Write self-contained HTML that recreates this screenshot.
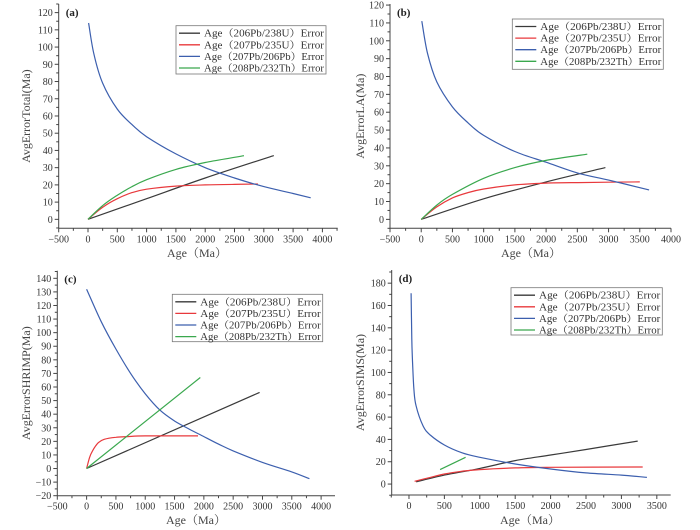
<!DOCTYPE html>
<html><head><meta charset="utf-8">
<style>
body{margin:0;background:#fff;}
svg{display:block;font-family:"Liberation Serif","Noto Serif CJK SC",serif;}
</style></head>
<body>
<svg id="fig" width="700" height="530" viewBox="0 0 700 530"></svg>
<script>
const seriesNames = ["Age（206Pb/238U）Error","Age（207Pb/235U）Error","Age（207Pb/206Pb）Error","Age（208Pb/232Th）Error"];
const colors = ["#3a3a3a","#e8393c","#3c5fae","#3aa84e"];

const aBlack = [[0,0],[1000,12],[2000,24],[3170,37]];
const aRed = [[0,0],[250,7],[500,12],[750,15.5],[1000,17.5],[1500,19.3],[2000,20],[2500,20.3],[2900,20.5]];
const aBlue = [[10,114],[100,96],[250,79],[500,64],[750,55],[1000,48],[1500,38],[2000,30],[2500,24],[3000,19],[3500,15],[3800,12.5]];
const aGreen = [[0,0],[250,8],[500,14],[750,19],[1000,23],[1500,29],[2000,33],[2500,36],[2660,37]];

const bBlack = [[0,0],[1000,11.5],[2000,21],[2950,29]];
const bRed = [[0,0],[250,7],[500,12],[750,15],[1000,17],[1500,19.3],[2000,20.3],[2500,20.6],[3000,20.8],[3500,21]];
const bBlue = [[10,111],[100,93],[250,77],[500,63],[750,54],[1000,47],[1500,38],[2000,32],[2500,26],[3000,22],[3650,16.5]];
const bGreen = [[0,0],[250,8],[500,14],[1000,23],[1500,29],[2000,33],[2660,36.5]];

const cBlack = [[0,0],[2950,56]];
const cRed = [[0,0],[50,8],[100,13],[200,19],[300,21.5],[500,23],[700,23.5],[1000,24],[1900,24]];
const cBlue = [[0,132],[250,108],[500,88],[750,70],[1000,55],[1250,43],[1500,35],[1750,29],[2000,23.5],[2250,18],[2500,13],[3000,4.5],[3500,-2.5],[3800,-7.5]];
const cGreen = [[0,0],[1940,67]];

const dBlack = [[100,2],[500,8],[1000,14],[1500,21],[2000,26],[2500,31],[3230,38.5]];
const dRed = [[80,2.5],[300,6],[500,9],[750,11.5],[1000,13],[1500,14.5],[2000,15],[3300,15.3]];
const dBlue = [[30,171],[40,130],[50,110],[70,85],[100,70],[200,52],[300,44],[500,35],[750,28],[1000,24],[1500,18],[2000,13.5],[2500,10],[3000,8],[3360,6]];
const dGreen = [[440,13],[800,24]];

const xTicksA = [-500,0,500,1000,1500,2000,2500,3000,3500,4000];
const xTicksD = [0,500,1000,1500,2000,2500,3000,3500];
const yTicksAB = [0,10,20,30,40,50,60,70,80,90,100,110,120];
const yTicksC = [-20,-10,0,10,20,30,40,50,60,70,80,90,100,110,120,130,140];
const yTicksD = [0,20,40,60,80,100,120,140,160,180];

const NS="http://www.w3.org/2000/svg";
const svg=document.getElementById('fig');
function mk(t,a,p){const e=document.createElementNS(NS,t);for(const k in a)e.setAttribute(k,a[k]);(p||svg).appendChild(e);return e;}
function smooth(pts){
 if(pts.length<3) return 'M'+pts.map(p=>p[0].toFixed(1)+','+p[1].toFixed(1)).join(' L');
 let d='M'+pts[0][0].toFixed(1)+','+pts[0][1].toFixed(1);
 for(let i=0;i<pts.length-1;i++){
  const p0=pts[Math.max(0,i-1)],p1=pts[i],p2=pts[i+1],p3=pts[Math.min(pts.length-1,i+2)];
  const c1=[p1[0]+(p2[0]-p0[0])/6,p1[1]+(p2[1]-p0[1])/6];
  const c2=[p2[0]-(p3[0]-p1[0])/6,p2[1]-(p3[1]-p1[1])/6];
  d+=` C${c1[0].toFixed(1)},${c1[1].toFixed(1)} ${c2[0].toFixed(1)},${c2[1].toFixed(1)} ${p2[0].toFixed(1)},${p2[1].toFixed(1)}`;
 }
 return d;
}

const panels=[
 {id:"a",label:"(a)",ylab:"AvgErrorTotal(Ma)",px0:58.7,px1:337.7,x0:-500,x1:4261,py0:228.3,py1:4,y0:-5.2,y1:125,xt:xTicksA,yt:yTicksAB,data:[aBlack,aRed,aBlue,aGreen],leg:[176,25.7,150,48.3],ylx:30,xlx:197,xly:257},
 {id:"b",label:"(b)",ylab:"AvgErrorLA(Ma)",px0:390,px1:671,x0:-500,x1:4000,py0:228.3,py1:4,y0:-5,y1:120.6,xt:xTicksA,yt:yTicksAB,data:[bBlack,bRed,bBlue,bGreen],leg:[512.3,19,151,50.3],ylx:364,xlx:531,xly:257},
 {id:"c",label:"(c)",ylab:"AvgErrorSHRIMP(Ma)",px0:57.3,px1:335,x0:-500,x1:4237,py0:495.7,py1:270.7,y0:-20,y1:145.6,xt:xTicksA,yt:yTicksC,data:[cBlack,cRed,cBlue,cGreen],leg:[172.3,294.3,150.4,47.4],ylx:30,xlx:196,xly:524},
 {id:"d",label:"(d)",ylab:"AvgErrorSIMS(Ma)",px0:391.7,px1:670.7,x0:-244,x1:3696,py0:495,py1:270,y0:-9.8,y1:191.8,xt:xTicksD,yt:yTicksD,data:[dBlack,dRed,dBlue,dGreen],leg:[511,287.7,151.3,47.3],ylx:364,xlx:530,xly:524}
];

panels.forEach(P=>{
 const g=mk('g',{});
 
 
 const X=v=>P.px0+(v-P.x0)/(P.x1-P.x0)*(P.px1-P.px0);
 const Y=v=>P.py0-(v-P.y0)/(P.y1-P.y0)*(P.py0-P.py1);
 const ax=mk('g',{stroke:'#444','stroke-width':1},g);
 
 
 mk('line',{x1:P.px0,y1:P.py0,x2:P.px1,y2:P.py0},ax);
 mk('line',{x1:P.px0,y1:P.py0,x2:P.px0,y2:P.py1},ax);
 const xs=P.xt[1]-P.xt[0];
 for(let v=P.xt[0]-xs;v<=P.x1;v+=xs/2){const px=X(v);if(px<P.px0-0.5||px>P.px1+0.5)continue;const maj=P.xt.includes(v);mk('line',{x1:px,y1:P.py0,x2:px,y2:P.py0+(maj?4:2.5)},ax);}
 const ys=P.yt[1]-P.yt[0];
 for(let v=P.yt[0]-ys;v<=P.y1;v+=ys/2){const py=Y(v);if(py>P.py0+0.5||py<P.py1-0.5)continue;const maj=P.yt.includes(v);mk('line',{x1:P.px0,y1:py,x2:P.px0-(maj?4:2.5),y2:py},ax);}
 P.xt.forEach(v=>{const t=mk('text',{x:X(v),y:P.py0+14,'text-anchor':'middle','font-size':10,fill:'#333'},g);t.textContent=v<0?'\u2212'+(-v):v;
  });
 P.yt.forEach(v=>{const t=mk('text',{x:P.px0-6,y:Y(v)+3.5,'text-anchor':'end','font-size':10,fill:'#333'},g);t.textContent=v<0?'\u2212'+(-v):v;
  });
 const xl=mk('text',{x:P.xlx,y:P.xly,'text-anchor':'middle','font-size':12,fill:'#444'},g);xl.textContent='Age（Ma）';
 
 const cy=(P.py0+P.py1)/2;
 const yl=mk('text',{x:P.ylx,y:cy,'text-anchor':'middle','font-size':12,fill:'#444',transform:`rotate(-90 ${P.ylx} ${cy})`},g);yl.textContent=P.ylab;
 
 const pl=mk('text',{x:P.px0+7,y:P.py1+12,'font-size':11,'font-weight':'bold',fill:'#222'},g);pl.textContent=P.label;
 
 P.data.forEach((s,i)=>{const p=mk('path',{d:smooth(s.map(d=>[X(d[0]),Y(d[1])])),fill:'none',stroke:colors[i],'stroke-width':1.2,'stroke-linejoin':'round'},g);
  });
 const [lx,ly,lw,lh]=P.leg;
 const lg=mk('g',{},g);
 
 mk('rect',{x:lx,y:ly,width:lw,height:lh,fill:'#fff',stroke:'#777','stroke-width':0.8},lg);
 seriesNames.forEach((n,i)=>{const ry=ly+7.5+i*11.6;
  const e=mk('g',{},lg);
  mk('line',{x1:lx+3,y1:ry,x2:lx+24,y2:ry,stroke:colors[i],'stroke-width':1.3},e);
  const t=mk('text',{x:lx+28,y:ry+3.5,'font-size':10,fill:'#333',textLength:lw-30,lengthAdjust:'spacingAndGlyphs'},e);t.textContent=n;});
});
</script>
</body></html>
